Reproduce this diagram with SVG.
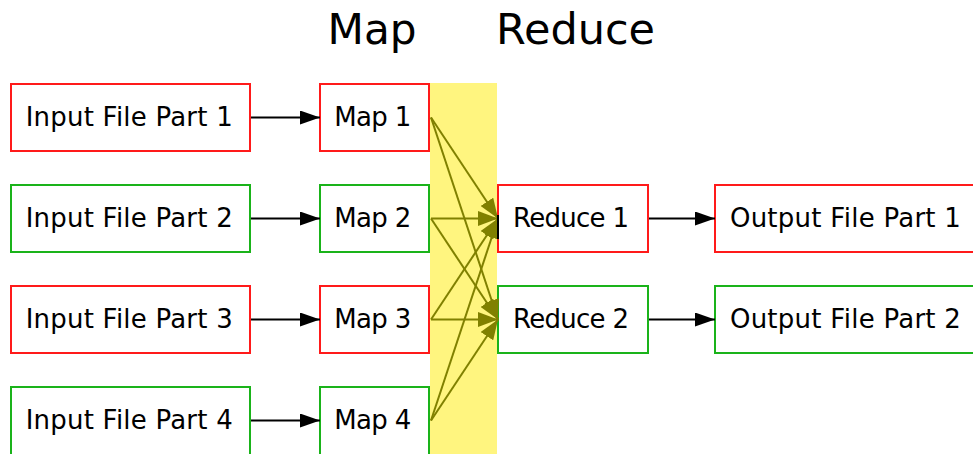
<svg xmlns="http://www.w3.org/2000/svg" width="973" height="454" viewBox="0 0 973 454">
<style>
text{font-family:"DejaVu Sans","Noto Sans",sans-serif;fill:#000}
.lbl{font-size:26px;text-anchor:middle}
.title{font-size:42.5px;text-anchor:middle}
.r{fill:#fff;stroke:#ff1a1a;stroke-width:2}
.g{fill:#fff;stroke:#1ab31a;stroke-width:2}
.e{stroke:#000;stroke-width:2;fill:none}
.o{stroke:#808000;stroke-width:2;fill:none}
</style>
<defs>
<marker id="ab" viewBox="0 0 20 14" refX="20" refY="7" markerWidth="20" markerHeight="14" markerUnits="userSpaceOnUse" orient="auto"><path d="M0,0L20,7L0,14z" fill="#000"/></marker>
<marker id="ao" viewBox="0 0 20 15" refX="20" refY="7.5" markerWidth="20" markerHeight="15" markerUnits="userSpaceOnUse" orient="auto"><path d="M0,0L20,7.5L0,15z" fill="#808000"/></marker>
</defs>
<rect x="0" y="0" width="973" height="454" fill="#fff"/>
<rect id="band" x="430" y="83" width="67" height="371" fill="#fff57f"/>
<text class="title" x="372" y="44" textLength="89" lengthAdjust="spacingAndGlyphs">Map</text>
<text class="title" x="575.5" y="44" textLength="159" lengthAdjust="spacingAndGlyphs">Reduce</text>
<g id="in1"><rect class="r" x="11" y="84" width="239" height="67"/><text class="lbl" x="129.2" y="126" textLength="207">Input File Part 1</text></g>
<g id="in2"><rect class="g" x="11" y="185" width="239" height="67"/><text class="lbl" x="129.2" y="227" textLength="207">Input File Part 2</text></g>
<g id="in3"><rect class="r" x="11" y="286" width="239" height="67"/><text class="lbl" x="129.2" y="328" textLength="207">Input File Part 3</text></g>
<g id="in4"><rect class="g" x="11" y="387" width="239" height="80"/><text class="lbl" x="129.2" y="429" textLength="207">Input File Part 4</text></g>
<g id="map1"><rect class="r" x="320" y="84" width="109" height="67"/><text class="lbl" x="372.8" y="126" textLength="77">Map 1</text></g>
<g id="map2"><rect class="g" x="320" y="185" width="109" height="67"/><text class="lbl" x="372.8" y="227" textLength="77">Map 2</text></g>
<g id="map3"><rect class="r" x="320" y="286" width="109" height="67"/><text class="lbl" x="372.8" y="328" textLength="77">Map 3</text></g>
<g id="map4"><rect class="g" x="320" y="387" width="109" height="80"/><text class="lbl" x="372.8" y="429" textLength="77">Map 4</text></g>
<g id="red1"><rect class="r" x="498" y="185" width="150" height="67"/><text class="lbl" x="571" y="227" textLength="116">Reduce 1</text></g>
<g id="red2"><rect class="g" x="498" y="286" width="150" height="67"/><text class="lbl" x="571" y="328" textLength="116">Reduce 2</text></g>
<g id="out1"><rect class="r" x="715" y="185" width="270" height="67"/><text class="lbl" x="845.4" y="227" textLength="231">Output File Part 1</text></g>
<g id="out2"><rect class="g" x="715" y="286" width="270" height="67"/><text class="lbl" x="845.4" y="328" textLength="231">Output File Part 2</text></g>
<g id="connectors">
<line class="e" x1="251" y1="117.5" x2="320" y2="117.5" marker-end="url(#ab)"/>
<line class="e" x1="251" y1="218.5" x2="320" y2="218.5" marker-end="url(#ab)"/>
<line class="e" x1="251" y1="319.5" x2="320" y2="319.5" marker-end="url(#ab)"/>
<line class="e" x1="251" y1="420.5" x2="320" y2="420.5" marker-end="url(#ab)"/>
<line class="e" x1="649" y1="218.5" x2="715" y2="218.5" marker-end="url(#ab)"/>
<line class="e" x1="649" y1="319.5" x2="715" y2="319.5" marker-end="url(#ab)"/>
<line class="o" x1="431" y1="117.5" x2="498" y2="218.5" marker-end="url(#ao)"/>
<line class="o" x1="431" y1="117.5" x2="498" y2="319.5" marker-end="url(#ao)"/>
<line class="o" x1="431" y1="218.5" x2="498" y2="218.5" marker-end="url(#ao)"/>
<line class="o" x1="431" y1="218.5" x2="498" y2="319.5" marker-end="url(#ao)"/>
<line class="o" x1="431" y1="319.5" x2="498" y2="218.5" marker-end="url(#ao)"/>
<line class="o" x1="431" y1="319.5" x2="498" y2="319.5" marker-end="url(#ao)"/>
<line class="o" x1="431" y1="420.5" x2="498" y2="218.5" marker-end="url(#ao)"/>
<line class="o" x1="431" y1="420.5" x2="498" y2="319.5" marker-end="url(#ao)"/>
<rect x="497" y="215" width="2" height="24" fill="#000"/>
</g>
</svg>
